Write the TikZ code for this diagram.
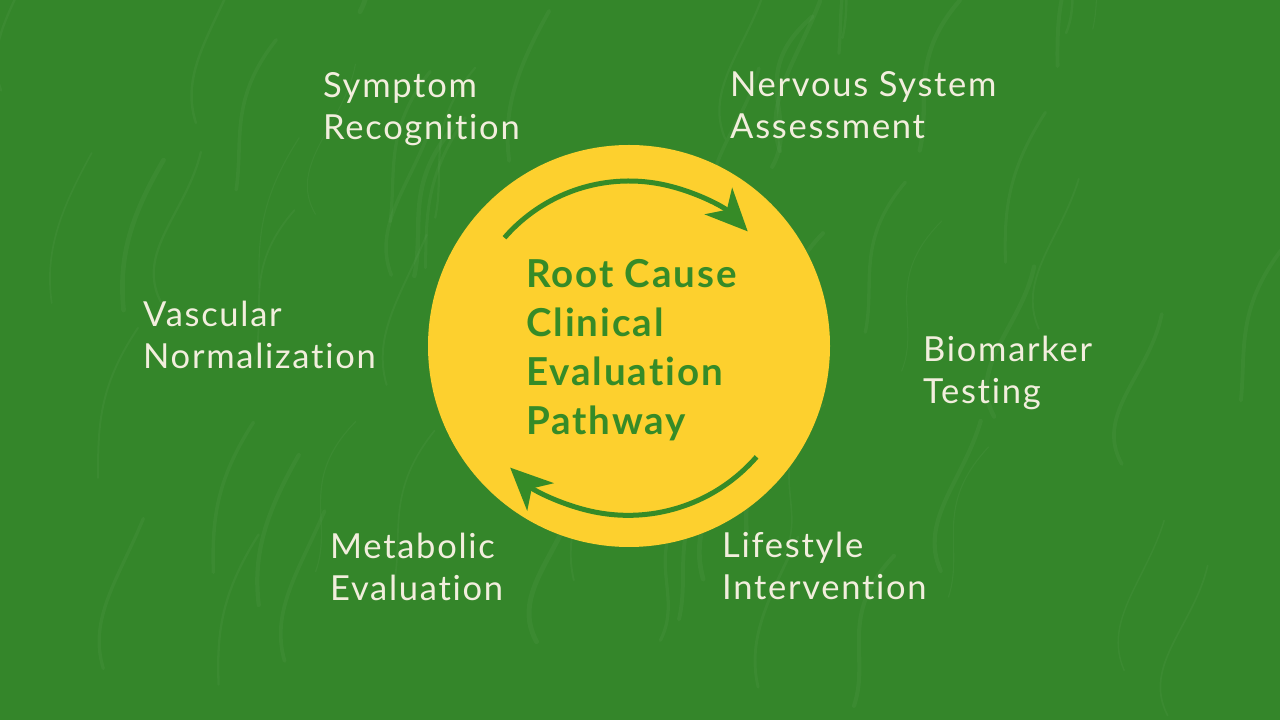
\documentclass[tikz,border=0pt]{standalone}
\usepackage{fontspec}
\setmainfont{Lato}[LetterSpace=5,Ligatures=NoCommon]
\usepackage{xcolor}
\usepackage{tikz}
\usetikzlibrary{arrows.meta,positioning,calc}
\definecolor{pathgreen}{HTML}{34862A}
\definecolor{pathdeep}{HTML}{368B27}
\definecolor{pathyellow}{HTML}{FDD02E}
\definecolor{pathcream}{HTML}{F2EEDD}

\tikzset{
  steplabel/.style={anchor=north west,inner sep=0pt,align=left,text=pathcream,
    font=\fontsize{34.5}{42}\selectfont},
  hubtitle/.style={anchor=north west,inner sep=0pt,align=left,text=pathdeep,
    font=\bfseries\fontsize{38.5}{49}\selectfont},
  cyclearrow/.style={draw=pathdeep,line width=5pt,
    -{Stealth[length=42pt,width=38pt,inset=12pt]}}
}

\begin{document}
\begin{tikzpicture}[x=1pt,y=1pt]
    % fond vert et quelques reflets d'eau
    \fill[pathgreen] (0,0) rectangle (1280,720);
    \useasboundingbox (0,0) rectangle (1280,720);
    \pgfmathsetseed{11}
    \foreach \i in {1,...,60}{
      \pgfmathsetmacro{\sx}{rnd*1280}
      \pgfmathsetmacro{\sy}{rnd*720}
      \pgfmathsetmacro{\sw}{1+rnd*4}
      \pgfmathsetmacro{\sb}{rnd*60-30}
      \draw[white,opacity=0.035,line width=\sw pt,line cap=round]
        (\sx,\sy) .. controls (\sx+\sb,\sy+50) and (\sx-\sb,\sy+90) .. (\sx+40,\sy+150);
    }
    % disque central
    \fill[pathyellow] (629,374) circle (201);
    \coordinate (hub) at (629,374);
    \node[hubtitle] (title) at (526,461) {Root Cause\\Clinical\\Evaluation\\Pathway};
    % fleches du cycle
    \draw[cyclearrow] ($(hub)+(139:165)$) arc[start angle=139,end angle=44,radius=165];
    \draw[cyclearrow] ($(hub)+(-41:169)$) arc[start angle=-41,end angle=-134,radius=170];
    % etapes autour du disque
    \node[steplabel] (symptom)   at (323,648) {Symptom\\Recognition};
    \node[steplabel] (nervous)   at (730,649) {Nervous System\\Assessment};
    \node[steplabel] (vascular)  at (143,419) {Vascular\\Normalization};
    \node[steplabel] (biomarker) at (923,384) {Biomarker\\Testing};
    \node[steplabel] (metabolic) at (330,187) {Metabolic\\Evaluation};
    \node[steplabel] (lifestyle) at (722,188) {Lifestyle\\Intervention};
\end{tikzpicture}
\end{document}
